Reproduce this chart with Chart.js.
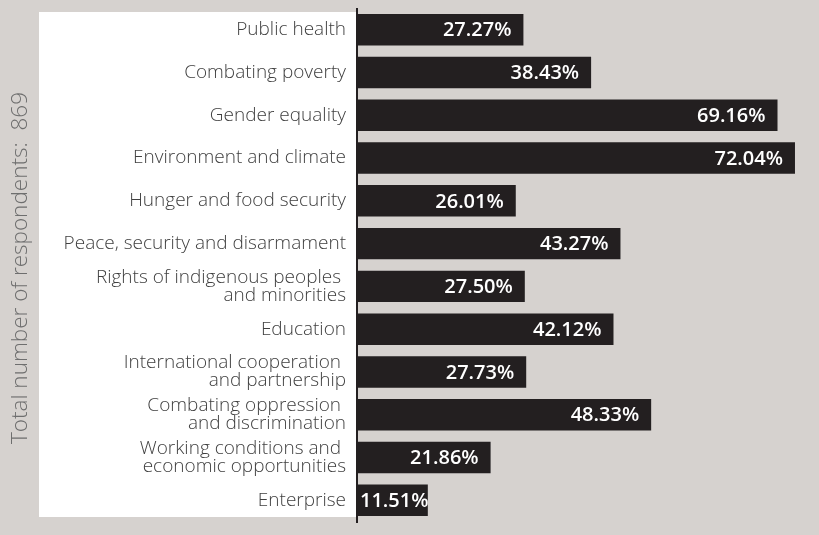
<!DOCTYPE html>
<html>
<head>
<meta charset="utf-8">
<script src="https://cdn.jsdelivr.net/npm/chart.js@4"></script>
<style>
  html, body { margin: 0; padding: 0; background: #d6d2cf; }
  #wrap { width: 819px; height: 535px; }
</style>
</head>
<body>
<div id="wrap"><canvas id="chart"></canvas></div>
<script>
const categories = [
  "Public health",
  "Combating poverty",
  "Gender equality",
  "Environment and climate",
  "Hunger and food security",
  "Peace, security and disarmament",
  ["Rights of indigenous peoples ", "and minorities"],
  "Education",
  ["International cooperation ", "and partnership"],
  ["Combating oppression ", "and discrimination"],
  ["Working conditions and ", "economic opportunities"],
  "Enterprise"
];
const shares = [27.27, 38.43, 69.16, 72.04, 26.01, 43.27, 27.50, 42.12, 27.73, 48.33, 21.86, 11.51];
const axisTitle = "Total number of respondents:  869";

const barColor = "#231f20";

// white panel behind the category labels, axis title, and the dark axis line
const panelPlugin = {
  id: "panel",
  beforeDraw(chart) {
    const { ctx, chartArea } = chart;
    ctx.save();
    ctx.fillStyle = "#ffffff";
    ctx.fillRect(39, 12, chartArea.left - 2 - 39, 505);
    ctx.translate(21, 268);
    ctx.rotate(-Math.PI / 2);
    ctx.font = "300 22.5px 'Open Sans'";
    ctx.fillStyle = "#6e6e6e";
    ctx.textAlign = "center";
    ctx.textBaseline = "middle";
    ctx.fillText(axisTitle, 0, 0);
    ctx.restore();
  },
  afterDatasetsDraw(chart) {
    const { ctx, chartArea } = chart;
    ctx.save();
    ctx.strokeStyle = barColor;
    ctx.lineWidth = 2;
    ctx.beginPath();
    ctx.moveTo(chartArea.left - 1, 8);
    ctx.lineTo(chartArea.left - 1, 523);
    ctx.stroke();
    ctx.restore();
  }
};

// value labels inside the bar ends
const valueLabels = {
  id: "valueLabels",
  afterDatasetsDraw(chart) {
    const { ctx } = chart;
    const meta = chart.getDatasetMeta(0);
    ctx.save();
    ctx.font = "600 20px 'Open Sans'";
    ctx.fillStyle = "#ffffff";
    ctx.textAlign = "right";
    ctx.textBaseline = "middle";
    meta.data.forEach((bar, i) => {
      const text = shares[i].toFixed(2) + "%";
      const w = ctx.measureText(text).width;
      const x = Math.max(bar.x - 12, bar.base + 2 + w);
      ctx.fillText(text, x, bar.y + 1);
    });
    ctx.restore();
  }
};

new Chart(document.getElementById("chart"), {
  type: "bar",
  data: {
    labels: categories,
    datasets: [{
      data: shares,
      backgroundColor: barColor,
      borderWidth: 0,
      barPercentage: 0.858,
      categoryPercentage: 0.858
    }]
  },
  options: {
    indexAxis: "y",
    responsive: true,
    maintainAspectRatio: false,
    animation: false,
    layout: { padding: { top: 8.4, bottom: 13.4, right: 0, left: 0 } },
    scales: {
      x: {
        display: false,
        min: 0,
        max: 76
      },
      y: {
        afterFit(scale) {
          scale.width = 358;
          scale.paddingTop = 0;
          scale.paddingBottom = 0;
        },
        grid: { display: false, drawTicks: false },
        border: { display: false },
        ticks: {
          padding: 12,
          color: "#404040",
          font: { family: "'Open Sans'", size: 19, weight: 300, lineHeight: 0.95 }
        }
      }
    },
    plugins: {
      legend: { display: false },
      tooltip: { enabled: false }
    }
  },
  plugins: [panelPlugin, valueLabels]
});
</script>
</body>
</html>
